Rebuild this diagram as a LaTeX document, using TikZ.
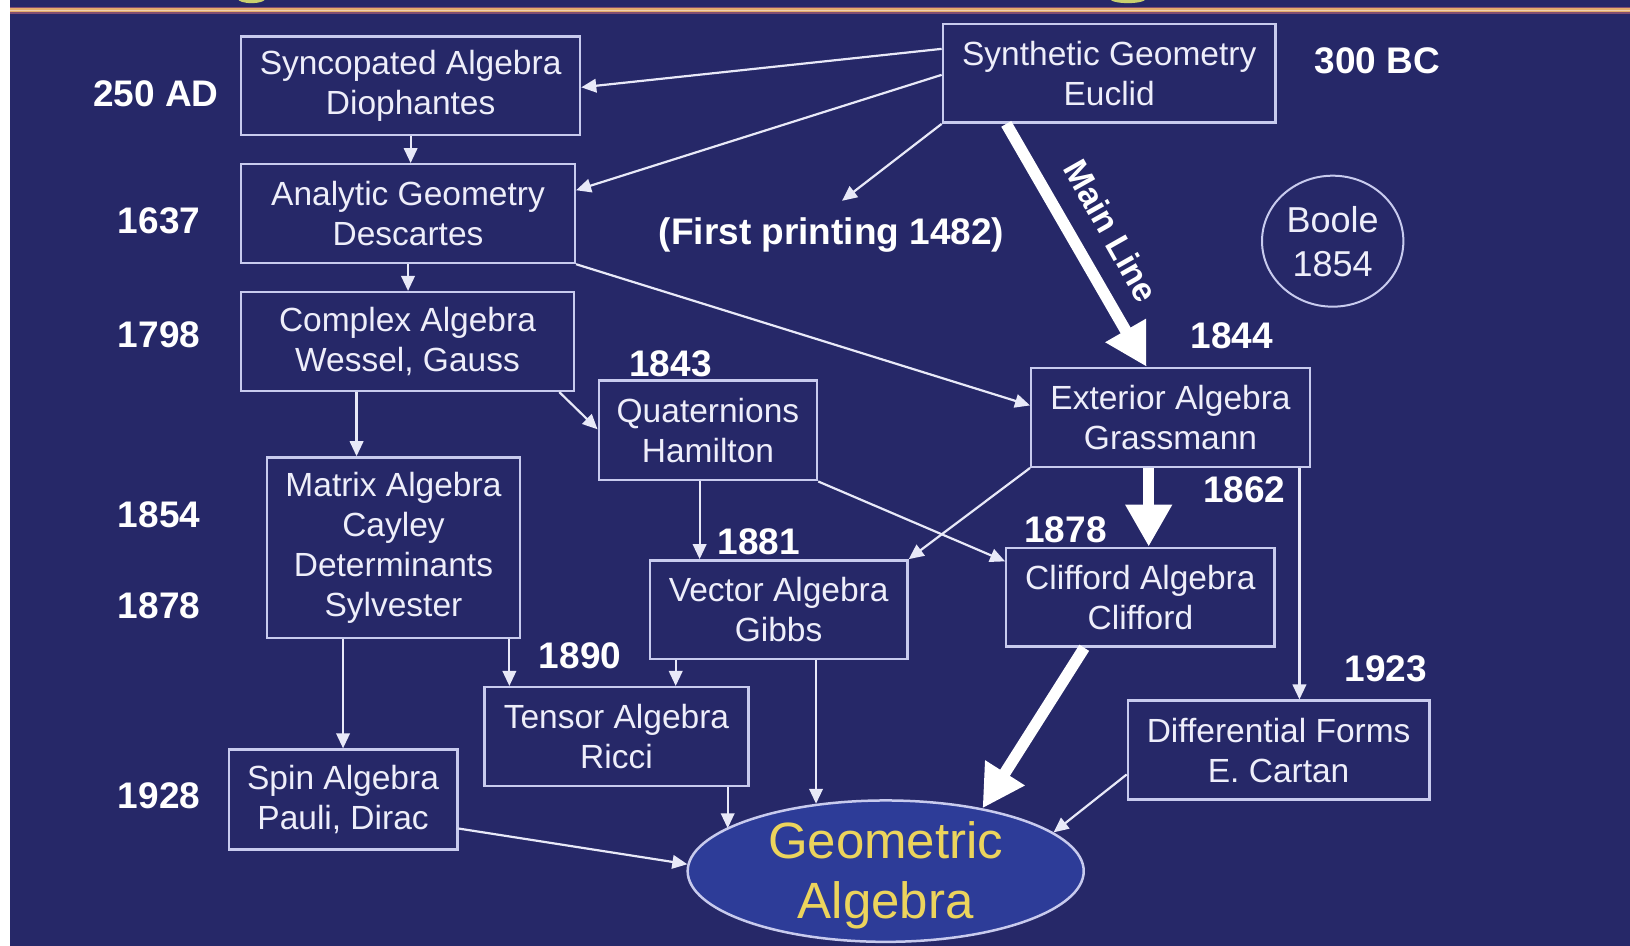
\documentclass[tikz,border=0pt]{standalone}
\usepackage{fontspec}
\setmainfont{Liberation Sans}
\usetikzlibrary{arrows.meta,shapes.geometric,calc}
\definecolor{bgc}{RGB}{38,40,104}
\definecolor{boxline}{RGB}{200,203,238}
\definecolor{boxtext}{RGB}{238,238,250}
\definecolor{arr}{RGB}{232,233,248}
\definecolor{gafill}{RGB}{45,60,152}
\definecolor{gatext}{RGB}{236,212,92}
\definecolor{orng}{RGB}{226,172,108}
\definecolor{orngdark}{RGB}{130,78,112}
\definecolor{blob}{RGB}{200,208,110}
\newcommand\gbox[6]{%
  \node[gbox, minimum width={(#4-#2)*1.0395pt}, minimum height={(#5-#3)*1.0395pt}]
    (#1) at ({(#2+#4)/2},{(#3+#5)/2}) {#6};}
\begin{document}
\begin{tikzpicture}[x=1.0395pt,y=-1.0395pt,
  gbox/.style={draw=boxline, line width=2.4pt, inner sep=0pt, align=center,
    text=boxtext, font=\fontsize{33.5}{40}\selectfont},
  yr/.style={text=white, font=\bfseries\fontsize{37}{44}\selectfont, inner sep=0pt},
  conn/.style={draw=arr, line width=2.2pt, -{Triangle[length=15pt,width=13.5pt]}},
  bigarr/.style={draw=white, line width=11.5pt, -{Triangle[length=42pt,width=44pt]}},
]
\useasboundingbox (0,0) rectangle (1568,910);
\fill[bgc] (0,0) rectangle (1568,910);
\fill[white] (0,0) rectangle (9.6,910);
% top rule
\fill[orngdark] (9.6,6.5) rectangle (1568,13.5);
\fill[orng] (9.6,8) rectangle (1568,12);
\fill[orng!55!white] (9.6,9.6) rectangle (1568,10.6);
\begin{scope}
\clip (9.6,0) rectangle (1568,6);
\fill[blob] (242,-1) ellipse [x radius=13, y radius=4];
\fill[blob] (1085,-1) ellipse [x radius=17, y radius=4];
\end{scope}

% boxes
\gbox{syn}{232}{35}{558}{130}{Syncopated Algebra\\Diophantes}
\gbox{euc}{907}{23}{1227}{118}{Synthetic Geometry\\Euclid}
\gbox{ana}{232}{158}{553}{253}{Analytic Geometry\\Descartes}
\gbox{cpx}{232}{281}{552}{376}{Complex Algebra\\Wessel, Gauss}
\gbox{qua}{576}{366}{786}{462}{Quaternions\\Hamilton}
\gbox{ext}{992}{354}{1260}{449}{Exterior Algebra\\Grassmann}
\gbox{mat}{257}{440}{500}{614}{Matrix Algebra\\Cayley\\Determinants\\Sylvester}
\gbox{vec}{625}{539}{873}{634}{Vector Algebra\\Gibbs}
\gbox{cli}{968}{527}{1226}{622}{Clifford Algebra\\Clifford}
\gbox{ten}{466}{661}{720}{756}{Tensor Algebra\\Ricci}
\gbox{spin}{220}{721}{440}{817}{Spin Algebra\\Pauli, Dirac}
\gbox{dif}{1085}{674}{1375}{769}{Differential Forms\\E. Cartan}

\node[ellipse, draw=boxline, line width=2pt, minimum width={136*1.0395pt},
  minimum height={126*1.0395pt}, inner sep=0pt, align=center, text=boxtext,
  font=\fontsize{36}{44}\selectfont] (boole) at (1282,232) {Boole\\1854};

\node[ellipse, draw=boxline, line width=2.5pt, fill=gafill,
  minimum width={381*1.0395pt}, minimum height={136*1.0395pt}, inner sep=0pt,
  label={[text=gatext, font=\fontsize{51}{60.5}\selectfont, align=center,
    inner sep=0pt, yshift=-4pt]center:{Geometric\\Algebra}}]
  (ga) at (852,838) {};

% year labels
\node[yr] (l250) at (150,90) {250 AD};
\node[yr] (l300) at (1325,58) {300 BC};
\node[yr] (l1637) at (153,212) {1637};
\node[yr] (fp) at (800,226) {(First printing 1482)};
\node[yr] (l1798) at (153,322) {1798};
\node[yr] (l1843) at (645,350) {1843};
\node[yr] (l1844) at (1185,323) {1844};
\node[yr] (l1854) at (153,495) {1854};
\node[yr] (l1862) at (1197,471) {1862};
\node[yr] (l1878a) at (153,583) {1878};
\node[yr] (l1881) at (730,521) {1881};
\node[yr] (l1878b) at (1025,510) {1878};
\node[yr] (l1890) at (558,631) {1890};
\node[yr] (l1923) at (1333,643) {1923};
\node[yr] (l1928) at (153,765) {1928};
\node[text=white, font=\bfseries\fontsize{34}{40}\selectfont, inner sep=0pt,
  rotate=-60.5] (ml) at (1069,222) {Main Line};

% connectors
\draw[conn] (euc.west |- 0,47) -- (syn.east |- 0,84);
\draw[conn] (euc.west |- 0,72) -- (ana.east |- 0,183);
\draw[conn] (euc.south west) -- ($(fp.north)+(10,-16)$);
\draw[bigarr] (euc.south -| 968,0) -- (ext.north -| 1103,0);
\draw[conn] (syn.south) -- (syn.south |- ana.north);
\draw[conn] (ana.south) -- (ana.south |- cpx.north);
\draw[conn] (ana.south east) -- (ext.west |- 0,390);
\draw[conn] (cpx.south -| 538,0) -- (qua.west |- 0,413);
\draw[conn] (cpx.south -| 343,0) -- (mat.north -| 343,0);
\draw[conn] (qua.south -| 673,0) -- (vec.north -| 673,0);
\draw[conn] (qua.south east) -- (cli.west |- 0,540);
\draw[conn] (ext.south west) -- (vec.north east);
\draw[bigarr] (ext.south -| 1105,0) -- (cli.north -| 1105,0);
\draw[conn] (ext.south -| 1250,0) -- (dif.north -| 1250,0);
\draw[conn] (mat.south -| 330,0) -- (spin.north -| 330,0);
\draw[conn] (mat.south -| 490,0) -- (ten.north -| 490,0);
\draw[conn] (vec.south -| 650,0) -- (ten.north -| 650,0);
\draw[conn] (vec.south -| 785,0) -- (ga.136 -| 785,0);
\draw[conn] (ten.south -| 700,0) -- (ga.165 -| 700,0);
\draw[conn] (spin.east |- 0,797) -- (ga.178);
\draw[bigarr] (cli.south -| 1043,0) -- (ga.33);
\draw[conn] (dif.west |- 0,745) -- (ga.13);
\end{tikzpicture}
\end{document}
